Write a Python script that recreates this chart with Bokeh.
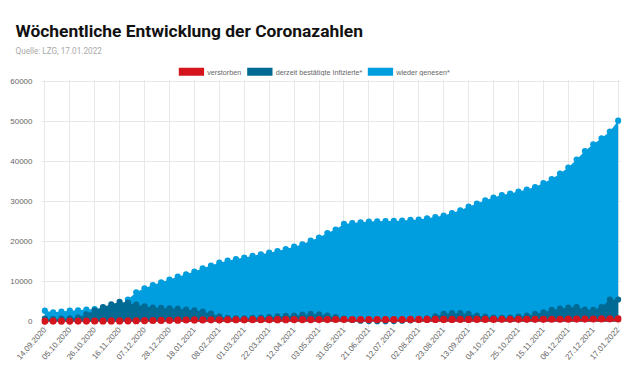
from bokeh.plotting import figure
from bokeh.models import (Range1d, FixedTicker, PrintfTickFormatter, ColumnDataSource)
from bokeh.core.properties import value
from bokeh.embed import file_html
from bokeh.resources import INLINE

# ---------------- data ----------------
tick_labels = ["14.09.2020", "05.10.2020", "26.10.2020", "16.11.2020", "07.12.2020",
               "28.12.2020", "18.01.2021", "08.02.2021", "01.03.2021", "22.03.2021",
               "12.04.2021", "03.05.2021", "31.05.2021", "21.06.2021", "12.07.2021",
               "02.08.2021", "23.08.2021", "13.09.2021", "04.10.2021", "25.10.2021",
               "15.11.2021", "06.12.2021", "27.12.2021", "17.01.2022"]

genesen = [2700, 2300, 2500, 2700, 2800, 3000, 3100, 3400, 3600, 4000,
           5500, 7300, 8300, 9100, 9800, 10500, 11200, 11800, 12500, 13300,
           14000, 14700, 15200, 15600, 16000, 16400, 16800, 17200, 17600, 18100,
           18700, 19300, 20200, 21000, 22100, 23000, 24400, 24600, 24800, 25000,
           25050, 25100, 25150, 25250, 25400, 25500, 25800, 26100, 26500, 27100,
           27800, 28700, 29500, 30300, 31000, 31600, 32000, 32500, 33000, 33600,
           34600, 35600, 37000, 38500, 40500, 42600, 44300, 45800, 47500, 50200]

infizierte = [700, 600, 700, 800, 1000, 1800, 2800, 3600, 4300, 4900,
              4700, 4200, 3800, 3500, 3400, 3300, 3200, 3000, 2800, 2500,
              2000, 1300, 900, 800, 800, 900, 1000, 1100, 1300, 1400,
              1500, 1700, 1900, 1800, 1500, 1100, 700, 400, 200, 100,
              80, 80, 100, 200, 300, 500, 800, 1300, 1900, 2100,
              2100, 1900, 1500, 1200, 1000, 900, 1000, 1200, 1500, 1900,
              2300, 2900, 3200, 3500, 3600, 3000, 2900, 3600, 5500, 5500]

verstorben = [100, 100, 105, 105, 110, 115, 120, 130, 140, 150,
              170, 190, 220, 250, 280, 310, 340, 370, 390, 405,
              415, 425, 430, 435, 440, 445, 450, 455, 460, 465,
              470, 475, 480, 485, 490, 495, 498, 500, 500, 502,
              503, 504, 505, 506, 507, 508, 510, 512, 515, 518,
              520, 523, 526, 528, 530, 532, 535, 538, 540, 545,
              550, 560, 570, 585, 600, 615, 630, 645, 660, 680]

series_names = ["verstorben", "derzeit bestätigte Infizierte*", "wieder genesen*"]
y_ticks = [0, 10000, 20000, 30000, 40000, 50000, 60000]

x = list(range(len(genesen)))
tick_positions = list(range(0, len(genesen), 3))

RED = "#d4151e"
DARK = "#006a95"
LIGHT = "#009ede"
GRID = "#e8e8e8"
FONT = "Liberation Sans"

# ---------------- header (title, source, legend) ----------------
H_HEAD = 76
head = figure(width=640, height=H_HEAD, output_backend="svg", toolbar_location=None,
              title=None, x_range=Range1d(0, 640), y_range=Range1d(H_HEAD, 0),
              x_axis_location=None, y_axis_location=None,
              min_border=0, min_border_left=0, min_border_right=0,
              min_border_top=0, min_border_bottom=0)
head.grid.visible = False
head.outline_line_color = None

head.text(x=[15], y=[30], text=["Wöchentliche Entwicklung der Coronazahlen"],
          text_font=value("Roboto"), text_font_style="bold", text_font_size="17.4px",
          text_color="#111111", text_baseline="alphabetic")
head.text(x=[15], y=[50], text=["Quelle: LZG, 17.01.2022"],
          text_font=value("Roboto"), text_font_size="8.2px",
          text_color="#aaaaaa", text_baseline="alphabetic")

sw_left = [178.3, 246.7, 367.3]
sw_w = 25.3
lab_x = [206.7, 275.2, 395.7]
head.quad(left=sw_left, right=[l + sw_w for l in sw_left], top=[67.3] * 3, bottom=[75.3] * 3,
          fill_color=[RED, DARK, LIGHT], line_color=None)
head.text(x=lab_x, y=[71.5] * 3, text=series_names,
          text_font=value(FONT), text_font_size="7.2px", text_color="#666666",
          text_baseline="middle")

# ---------------- main chart ----------------
src = ColumnDataSource(dict(x=x, g=genesen, i=infizierte, v=verstorben))

p = figure(width=640, height=368 - H_HEAD, output_backend="svg", toolbar_location=None,
           x_range=Range1d(-0.4, len(x) - 1 + 0.4), y_range=Range1d(-1000, 60500),
           min_border_left=41, min_border_right=19, min_border_top=3, min_border_bottom=43)
p.outline_line_color = None

p.varea(x="x", y1=0, y2="g", source=src, fill_color=LIGHT)
p.scatter(x="x", y="g", source=src, size=6.2, fill_color=LIGHT, line_color=None)
p.varea(x="x", y1=0, y2="i", source=src, fill_color=DARK)
p.scatter(x="x", y="i", source=src, size=6.2, fill_color=DARK, line_color=None)
p.varea(x="x", y1=0, y2="v", source=src, fill_color=RED)
p.scatter(x="x", y="v", source=src, size=7.2, fill_color=RED, line_color=None)

p.xaxis.ticker = FixedTicker(ticks=tick_positions)
p.xaxis.major_label_overrides = {pos: lab for pos, lab in zip(tick_positions, tick_labels)}
p.xaxis.major_label_orientation = 0.85
p.xaxis.axis_line_color = None
p.xaxis.major_tick_line_color = GRID
p.xaxis.major_tick_out = 3
p.xaxis.major_tick_in = 0
p.xaxis.minor_tick_line_color = None
p.xaxis.major_label_text_font = FONT
p.xaxis.major_label_text_font_size = "8px"
p.xaxis.major_label_text_color = "#666666"
p.xaxis.major_label_standoff = 0

p.yaxis.ticker = FixedTicker(ticks=y_ticks)
p.yaxis.formatter = PrintfTickFormatter(format="%d")
p.yaxis.axis_line_color = None
p.yaxis.major_tick_line_color = None
p.yaxis.minor_tick_line_color = None
p.yaxis.major_label_text_font = FONT
p.yaxis.major_label_text_font_size = "8px"
p.yaxis.major_label_text_color = "#666666"
p.yaxis.major_label_standoff = 3

p.xgrid.ticker = FixedTicker(ticks=tick_positions)
p.ygrid.ticker = FixedTicker(ticks=y_ticks)
p.xgrid.grid_line_color = GRID
p.ygrid.grid_line_color = GRID

open("out.html", "w").write(file_html([head, p], INLINE))
